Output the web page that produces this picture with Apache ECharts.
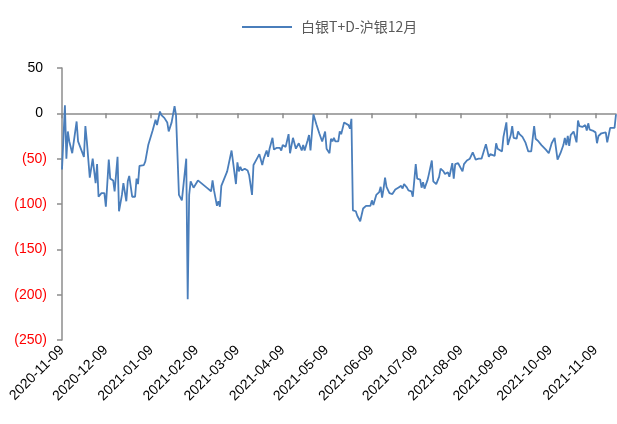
<!DOCTYPE html>
<html>
<head>
<meta charset="utf-8">
<script src="https://cdn.jsdelivr.net/npm/echarts@6/dist/echarts.min.js"></script>
<style>
  html, body { margin: 0; padding: 0; background: #fff; }
  #chart { width: 617px; height: 424px; }
</style>
</head>
<body>
<div id="chart"></div>
<script>
const seriesName = '白银T+D-沪银12月';
const axisStart = '2020-11-09';
const axisEnd = '2021-11-23';
const yTicks = [-250, -200, -150, -100, -50, 0, 50];

const dates = [
  '2020-11-09','2020-11-11','2020-11-12','2020-11-13','2020-11-14','2020-11-16','2020-11-19','2020-11-20',
  '2020-11-24','2020-11-25','2020-11-26','2020-11-27','2020-11-28','2020-11-30','2020-12-02','2020-12-03',
  '2020-12-04','2020-12-06','2020-12-08','2020-12-09','2020-12-11','2020-12-12','2020-12-14','2020-12-15',
  '2020-12-17','2020-12-18','2020-12-20','2020-12-21','2020-12-23','2020-12-24','2020-12-25','2020-12-27',
  '2020-12-29','2020-12-30','2020-12-31','2021-01-01','2021-01-04','2021-01-05','2021-01-07','2021-01-08',
  '2021-01-10','2021-01-12','2021-01-13','2021-01-15','2021-01-16','2021-01-18','2021-01-19','2021-01-20',
  '2021-01-21','2021-01-23','2021-01-25','2021-01-26','2021-01-28','2021-01-30','2021-02-02','2021-02-03',
  '2021-02-04','2021-02-05','2021-02-07','2021-02-08','2021-02-10','2021-02-16','2021-02-19','2021-02-20',
  '2021-02-21','2021-02-23','2021-02-24','2021-02-25','2021-02-26','2021-02-28','2021-03-02','2021-03-03',
  '2021-03-05','2021-03-06','2021-03-08','2021-03-09','2021-03-10','2021-03-11','2021-03-12','2021-03-14',
  '2021-03-16','2021-03-17','2021-03-19','2021-03-20','2021-03-22','2021-03-24','2021-03-25','2021-03-26',
  '2021-03-27','2021-03-29','2021-03-30','2021-03-31','2021-04-02','2021-04-03','2021-04-05','2021-04-07',
  '2021-04-08','2021-04-09','2021-04-11','2021-04-12','2021-04-13','2021-04-14','2021-04-16','2021-04-18',
  '2021-04-20','2021-04-22','2021-04-23','2021-04-24','2021-04-26','2021-04-27','2021-04-28','2021-04-30',
  '2021-05-02','2021-05-04','2021-05-06','2021-05-08','2021-05-09','2021-05-11','2021-05-12','2021-05-13',
  '2021-05-14','2021-05-15','2021-05-17','2021-05-18','2021-05-19','2021-05-21','2021-05-22','2021-05-24',
  '2021-05-25','2021-05-26','2021-05-27','2021-05-29','2021-05-30','2021-06-01','2021-06-03','2021-06-05',
  '2021-06-08','2021-06-09','2021-06-10','2021-06-12','2021-06-14','2021-06-15','2021-06-16','2021-06-17',
  '2021-06-18','2021-06-19','2021-06-21','2021-06-23','2021-06-25','2021-06-27','2021-06-29','2021-06-30',
  '2021-07-01','2021-07-03','2021-07-04','2021-07-06','2021-07-07','2021-07-09','2021-07-10','2021-07-12',
  '2021-07-13','2021-07-14','2021-07-15','2021-07-17','2021-07-18','2021-07-20','2021-07-21','2021-07-23',
  '2021-07-25','2021-07-26','2021-07-28','2021-07-29','2021-07-31','2021-08-01','2021-08-03','2021-08-04',
  '2021-08-05','2021-08-07','2021-08-08','2021-08-10','2021-08-11','2021-08-13','2021-08-14','2021-08-15',
  '2021-08-17','2021-08-18','2021-08-19','2021-08-21','2021-08-23','2021-08-26','2021-08-28','2021-08-29',
  '2021-08-30','2021-09-01','2021-09-02','2021-09-03','2021-09-04','2021-09-06','2021-09-07','2021-09-09',
  '2021-09-10','2021-09-12','2021-09-13','2021-09-14','2021-09-16','2021-09-17','2021-09-18','2021-09-20',
  '2021-09-22','2021-09-24','2021-09-26','2021-09-27','2021-09-28','2021-09-29','2021-10-01','2021-10-03',
  '2021-10-06','2021-10-08','2021-10-10','2021-10-12','2021-10-14','2021-10-16','2021-10-18','2021-10-19',
  '2021-10-20','2021-10-21','2021-10-22','2021-10-23','2021-10-25','2021-10-26','2021-10-27','2021-10-28',
  '2021-10-29','2021-10-31','2021-11-02','2021-11-03','2021-11-04','2021-11-05','2021-11-07','2021-11-09',
  '2021-11-10','2021-11-11','2021-11-13','2021-11-16','2021-11-17','2021-11-19','2021-11-20','2021-11-22',
  '2021-11-23'
];

const spread = [
  -62, 9, -50, -20, -31, -44, -9, -31,
  -48, -14, -31, -30, -71, -50, -77, -56,
  -92, -88, -88, -103, -51, -72, -74, -86,
  -48, -108, -90, -77, -97, -75, -69, -92,
  -92, -72, -78, -58, -57, -53, -35, -33,
  -19, -7, -13, 2, -2, -5, -3, -10,
  -20, -10, 8, -2, -90, -96, -50, -205,
  -90, -75, -82, -83, -74, -82, -86, -74,
  -85, -102, -97, -103, -80, -72, -64, -62,
  -41, -43, -78, -54, -64, -59, -63, -61,
  -63, -68, -90, -57, -51, -45, -43, -57,
  -50, -41, -48, -39, -27, -40, -38, -38,
  -41, -35, -37, -35, -23, -44, -27, -39,
  -33, -41, -35, -41, -30, -24, -41, -1,
  -12, -22, -31, -20, -39, -44, -28, -31,
  -27, -31, -31, -20, -23, -10, -11, -13,
  -17, -6, -107, -108, -113, -119, -105, -102,
  -102, -96, -101, -90, -87, -81, -93, -83,
  -71, -81, -88, -89, -84, -82, -80, -83,
  -78, -82, -85, -86, -92, -56, -72, -73,
  -82, -76, -83, -74, -67, -52, -75, -78,
  -70, -61, -64, -67, -65, -70, -55, -72,
  -56, -55, -54, -64, -56, -52, -50, -50,
  -43, -45, -51, -50, -50, -34, -48, -45,
  -43, -47, -33, -39, -41, -42, -26, -10,
  -35, -24, -14, -27, -28, -20, -23, -26,
  -32, -42, -42, -42, -14, -28, -31, -35,
  -40, -44, -33, -27, -51, -44, -35, -27,
  -35, -25, -36, -24, -20, -21, -32, -8,
  -14, -15, -13, -19, -11, -18, -19, -21,
  -33, -25, -22, -21, -32, -16, -15, -16,
  -1
];

// calendar days for a date-like category axis
const buildDays = (start, end) => {
  const days = [];
  const d = new Date(start + 'T00:00:00Z');
  const last = new Date(end + 'T00:00:00Z');
  while (d <= last) {
    days.push(d.toISOString().split('T')[0]);
    d.setUTCDate(d.getUTCDate() + 1);
  }
  return days;
};

const days = buildDays(axisStart, axisEnd);
const valueByDate = {};
dates.forEach((date, i) => { valueByDate[date] = spread[i]; });
const lineData = days.map(day => (day in valueByDate ? valueByDate[day] : null));

const isMonthTick = (index, value) => value.slice(8) === '09';

const chart = echarts.init(document.getElementById('chart'));
const axisGray = '#8c8c8c';
const lineBlue = '#4a7ebb';
const font = '"Liberation Sans", Arial, sans-serif';

chart.setOption({
  animation: false,
  legend: {
    top: 15,
    left: 237,
    icon: 'rect',
    itemWidth: 50,
    itemHeight: 2,
    data: [seriesName],
    itemStyle: { color: lineBlue },
    textStyle: {
      color: '#595959',
      fontSize: 14,
      fontFamily: '"Noto Sans CJK SC", ' + font,
      padding: [0, 0, 0, 4]
    }
  },
  grid: {
    left: 62,
    right: 1,
    top: 68,
    bottom: 84,
    containLabel: false,
    outerBoundsMode: 'none'
  },
  xAxis: [
    {
      type: 'category',
      data: days,
      boundaryGap: false,
      axisLine: { show: true, onZero: true, lineStyle: { color: axisGray, width: 1.5 } },
      axisTick: { show: true, interval: isMonthTick, length: 5, lineStyle: { color: axisGray, width: 1.5 } },
      axisLabel: { show: false },
      splitLine: { show: false }
    },
    {
      type: 'category',
      data: days,
      position: 'bottom',
      boundaryGap: false,
      axisLine: { show: false, onZero: false },
      axisTick: { show: false },
      axisLabel: {
        interval: isMonthTick,
        rotate: 45,
        margin: 8,
        color: '#000',
        fontSize: 14,
        fontFamily: font
      },
      splitLine: { show: false }
    }
  ],
  yAxis: {
    type: 'value',
    min: yTicks[0],
    max: yTicks[yTicks.length - 1],
    interval: 50,
    axisLine: { show: true, lineStyle: { color: axisGray, width: 1.5 } },
    axisTick: { show: true, length: 5, lineStyle: { color: axisGray, width: 1.5 } },
    splitLine: { show: false },
    axisLabel: {
      margin: 15,
      fontSize: 14,
      fontFamily: font,
      formatter: v => (v < 0 ? '{neg|(' + (-v) + ')}' : '{pos|' + v + '}'),
      rich: {
        neg: { color: '#ff0000', fontSize: 14, fontFamily: font },
        pos: { color: '#000', fontSize: 14, fontFamily: font, padding: [0, 4, 0, 0] }
      }
    }
  },
  series: [
    {
      name: seriesName,
      type: 'line',
      xAxisIndex: 0,
      data: lineData,
      connectNulls: true,
      symbol: 'none',
      lineStyle: { color: lineBlue, width: 1.8 },
      itemStyle: { color: lineBlue }
    }
  ]
});
</script>
</body>
</html>
